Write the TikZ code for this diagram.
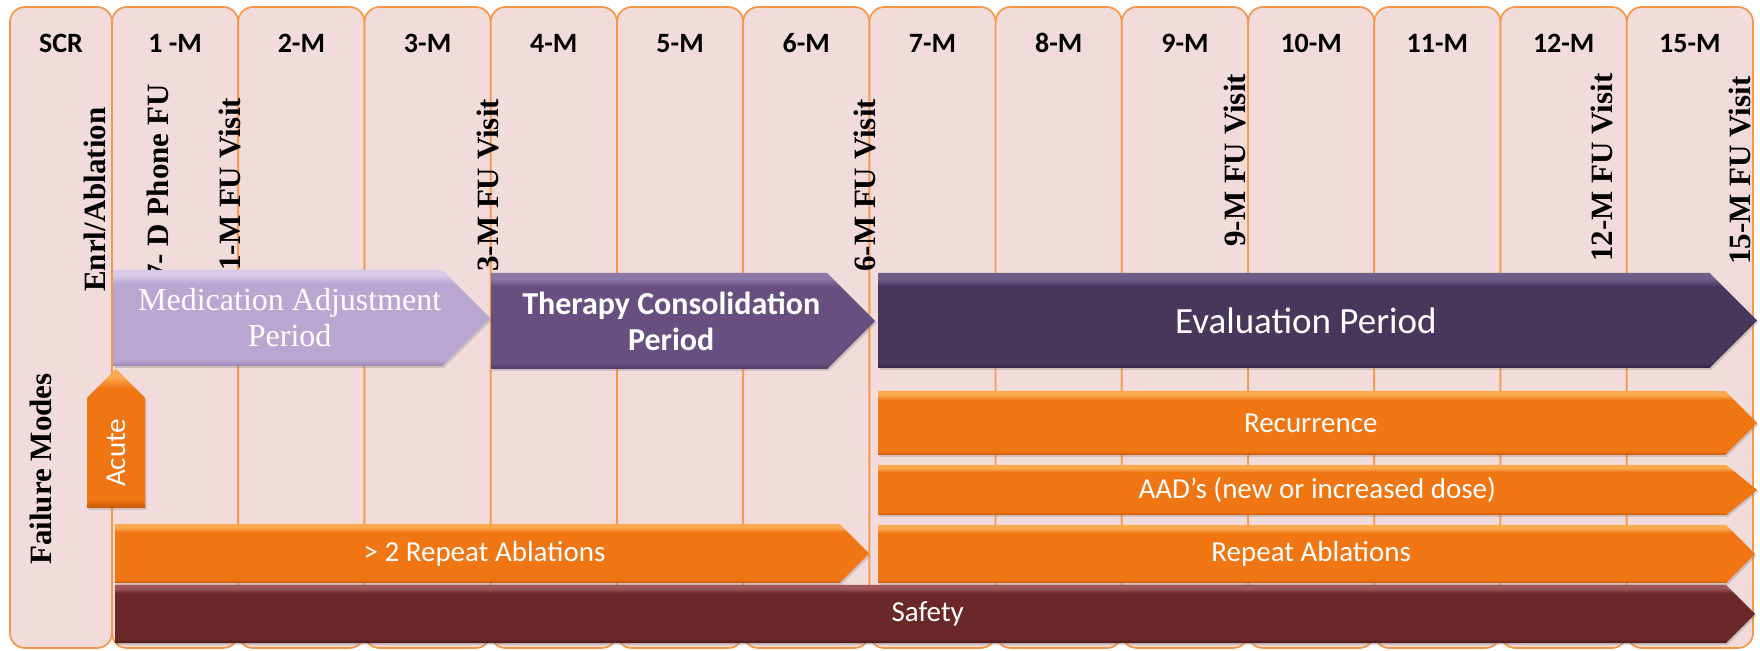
\documentclass[tikz,border=0pt]{standalone}
\usepackage{fontspec}
\setmainfont{Carlito}
\newfontfamily\timesb{Liberation Serif}
\usepackage{tikz}
\usetikzlibrary{shapes.symbols, shadows}
\usepackage{xcolor}

\definecolor{colfill}{HTML}{F2DCDB}
\definecolor{colline}{HTML}{F79646}
\definecolor{medlight}{HTML}{D6CAE6}
\definecolor{medbase}{HTML}{BAA7D1}
\definecolor{meddark}{HTML}{9783B2}
\definecolor{therlight}{HTML}{8C77A6}
\definecolor{therbase}{HTML}{67507F}
\definecolor{therdark}{HTML}{4C3A63}
\definecolor{evallight}{HTML}{6F5E88}
\definecolor{evalbase}{HTML}{47375B}
\definecolor{evaldark}{HTML}{322644}
\definecolor{orlight}{HTML}{FBA94E}
\definecolor{orbase}{HTML}{F07513}
\definecolor{ordark}{HTML}{C75906}
\definecolor{safelight}{HTML}{A05656}
\definecolor{safebase}{HTML}{6A2829}
\definecolor{safedark}{HTML}{4A1A1B}

% bevelled fill: dark lower rim, light upper rim
\newcommand\bevel[4]{%
  \pgfdeclareverticalshading{#1}{100bp}{color(0bp)=(#2); color(25bp)=(#2);
    color(28bp)=(#3); color(68bp)=(#3); color(72bp)=(#4); color(75bp)=(#4);
    color(100bp)=(#4)}}
\bevel{medshade}{meddark}{medbase}{medlight}
\bevel{thershade}{therdark}{therbase}{therlight}
\bevel{evalshade}{evaldark}{evalbase}{evallight}
\bevel{orshade}{ordark}{orbase}{orlight}
\bevel{safeshade}{safedark}{safebase}{safelight}

\tikzset{
  month/.style={draw=colline, line width=1.7pt, fill=colfill, rounded corners=15pt},
  head/.style={font=\bfseries\fontsize{28}{30}\selectfont, anchor=base},
  visit/.style={font=\timesb\bfseries\fontsize{31}{33}\selectfont, rotate=90,
    anchor=west, inner sep=0pt},
  bar/.style={signal, signal to=east, signal pointer angle=90, inner sep=0pt,
    anchor=west, text=white, font=\fontsize{29}{31}\selectfont,
    drop shadow={opacity=0.3, shadow xshift=1.5pt, shadow yshift=-2pt}},
  bartext/.style={text=white, inner sep=0pt, align=center,
    font=\fontsize{29}{31}\selectfont},
}

\begin{document}
\begin{tikzpicture}[x=1pt, y=1pt]
    \useasboundingbox (0,0) rectangle (1760,650);

    % Columns
    \draw[month] (10,2) rectangle (112,643);
    \draw[month] (112,2) rectangle (238.2,643);
    \draw[month] (238.2,2) rectangle (364.5,643);
    \draw[month] (364.5,2) rectangle (490.7,643);
    \draw[month] (490.7,2) rectangle (616.9,643);
    \draw[month] (616.9,2) rectangle (743.2,643);
    \draw[month] (743.2,2) rectangle (869.4,643);
    \draw[month] (869.4,2) rectangle (995.6,643);
    \draw[month] (995.6,2) rectangle (1121.8,643);
    \draw[month] (1121.8,2) rectangle (1248.1,643);
    \draw[month] (1248.1,2) rectangle (1374.3,643);
    \draw[month] (1374.3,2) rectangle (1500.5,643);
    \draw[month] (1500.5,2) rectangle (1626.8,643);
    \draw[month] (1626.8,2) rectangle (1753,643);

    % Column headings
    \node[head] (hscr) at (61,597) {SCR};
    \node[head] (h1) at (175.1,597) {1 -M};
    \node[head] (h2) at (301.4,597) {2-M};
    \node[head] (h3) at (427.6,597) {3-M};
    \node[head] (h4) at (553.8,597) {4-M};
    \node[head] (h5) at (680.1,597) {5-M};
    \node[head] (h6) at (806.3,597) {6-M};
    \node[head] (h7) at (932.5,597) {7-M};
    \node[head] (h8) at (1058.7,597) {8-M};
    \node[head] (h9) at (1185,597) {9-M};
    \node[head] (h10) at (1311.2,597) {10-M};
    \node[head] (h11) at (1437.4,597) {11-M};
    \node[head] (h12) at (1563.7,597) {12-M};
    \node[head] (h15) at (1689.9,597) {15-M};

    % Visits
    \node[visit] (enrl) at (95,358) {Enrl/Ablation};
    \node[visit] (phone) at (158,370) {7- D Phone FU};
    \node[visit] (v1) at (230,379) {1-M FU Visit};
    \node[visit] (v3) at (488,378) {3-M FU Visit};
    \node[visit] (v6) at (865,378) {6-M FU Visit};
    \node[visit] (v9) at (1235,403) {9-M FU Visit};
    \node[visit] (v12) at (1602,388) {12-M FU Visit};
    \node[visit] (v15) at (1740,385) {15-M FU Visit};
    \node[visit] (fail) at (41,85) {Failure Modes};

    % Periods
    \node[bar, shading=medshade, minimum width=377, minimum height=96,
      label={[bartext, xshift=12pt, font=\timesb\fontsize{32}{36}\selectfont]
        center:{Medication Adjustment\\Period}}] (med) at (113,332) {};
    \node[bar, shading=thershade, minimum width=384, minimum height=96,
      label={[bartext, xshift=12pt, font=\bfseries\fontsize{32}{36}\selectfont]
        center:{Therapy Consolidation\\Period}}] (ther) at (491,329) {};
    \node[bar, shading=evalshade, minimum width=879, minimum height=95,
      label={[bartext, xshift=12pt, font=\fontsize{37}{40}\selectfont]
        center:Evaluation Period}] (eval) at (878,329.5) {};

    % Failure modes
    \node[bar, shading=orshade, rotate=90, minimum width=139, minimum height=58]
      (acute) at (116,142) {Acute};
    \node[bar, shading=orshade, minimum width=879, minimum height=64,
      label={[bartext, xshift=9pt]center:Recurrence}] (recur) at (878,227) {};
    \node[bar, shading=orshade, signal pointer angle=78, minimum width=879,
      minimum height=50, label={[bartext, xshift=15pt]center:AAD’s (new or increased dose)}]
      (aad) at (878,160) {};
    \node[bar, shading=orshade, minimum width=754, minimum height=59,
      label={[bartext, xshift=7pt]center:> 2 Repeat Ablations}] (rep2) at (115,96.5) {};
    \node[bar, shading=orshade, minimum width=877, minimum height=58,
      label={[bartext, xshift=9pt]center:Repeat Ablations}] (rep) at (878,96) {};
    \node[bar, shading=safeshade, minimum width=1640, minimum height=58,
      label={[bartext, xshift=7pt]center:Safety}] (safe) at (115,36) {};
\end{tikzpicture}
\end{document}
